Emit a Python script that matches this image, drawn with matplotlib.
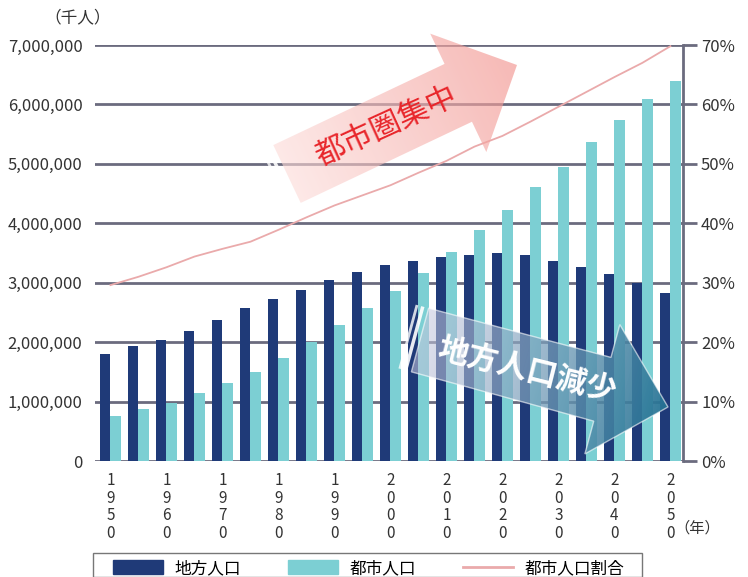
import numpy as np
import matplotlib
matplotlib.use('Agg')
import matplotlib.pyplot as plt
from matplotlib.patches import Patch, Polygon, Rectangle
from matplotlib.lines import Line2D

# フォント設定
plt.rcParams['font.family'] = ['Noto Sans CJK JP', 'DejaVu Sans']
plt.rcParams['axes.unicode_minus'] = False

# データ（千人、5年ごと）
years = list(range(1950, 2051, 5))
rural_pop = [1800000, 1940000, 2030000, 2190000, 2380000, 2570000, 2730000, 2880000,
             3040000, 3180000, 3300000, 3360000, 3440000, 3460000, 3500000, 3460000,
             3360000, 3270000, 3140000, 3000000, 2820000]
urban_pop = [760000, 870000, 980000, 1150000, 1320000, 1500000, 1740000, 2000000,
             2290000, 2570000, 2860000, 3170000, 3510000, 3880000, 4230000, 4610000,
             4950000, 5360000, 5730000, 6090000, 6390000]
urban_ratio = [29.6, 31.0, 32.6, 34.4, 35.7, 36.9, 38.9, 41.0, 43.0, 44.7, 46.4,
               48.5, 50.5, 52.9, 54.7, 57.1, 59.6, 62.1, 64.6, 67.0, 69.8]
left_ticks = [0, 1000000, 2000000, 3000000, 4000000, 5000000, 6000000, 7000000]
right_ticks = [0, 10, 20, 30, 40, 50, 60, 70]
labels = ['地方人口', '都市人口', '都市人口割合']

NAVY = '#1f3a78'
TEAL = '#7ccfd3'
PINK = '#eaaaab'
GRID = '#6b6b7e'

W, H = 748, 577
fig = plt.figure(figsize=(W / 100, H / 100), dpi=100)
ax = fig.add_axes([95 / W, 1 - 461 / H, (683 - 95) / W, (461 - 45) / H])

x = np.arange(len(years))
bw = 0.375
ax.bar(x - bw / 2, rural_pop, bw, color=NAVY, zorder=3)
ax.bar(x + bw / 2, urban_pop, bw, color=TEAL, zorder=3)
ax.set_xlim(-0.553, 20.45)
ax.set_ylim(0, 7000000)
ax.set_yticks(left_ticks)
ax.set_yticklabels([format(v, ',') for v in left_ticks], fontsize=12, color='#333333')
ax.grid(axis='y', color=GRID, lw=2, zorder=1)
ax.tick_params(axis='y', length=0, pad=9)
dec = [i for i, y in enumerate(years) if y % 10 == 0]
ax.set_xticks(dec)
ax.set_xticklabels(['\n'.join(str(years[i])) for i in dec], fontsize=11,
                   color='#333333', linespacing=1.05)
ax.tick_params(axis='x', length=0, pad=8)
for s in ['top', 'left', 'bottom', 'right']:
    ax.spines[s].set_visible(False)

ax2 = ax.twinx()
ax2.plot(x, urban_ratio, color=PINK, lw=1.3, zorder=4)
ax2.set_ylim(0, 70)
ax2.set_yticks(right_ticks)
ax2.set_yticklabels([f'{v}%' for v in right_ticks], fontsize=12, color='#333333')
ax2.tick_params(axis='y', length=10, width=2, color=GRID, pad=3)
for s in ['top', 'left', 'bottom']:
    ax2.spines[s].set_visible(False)
ax2.spines['right'].set_color(GRID)
ax2.spines['right'].set_linewidth(2)

fig.text(78 / W, 1 - 18 / H, '（千人）', fontsize=12, ha='center', va='center', color='#333333')
fig.text(697 / W, 1 - 528 / H, '（年）', fontsize=11, ha='center', va='center', color='#333333')

# 凡例（枠は別に描く）
handles = [Patch(color=NAVY), Patch(color=TEAL), Line2D([], [], color=PINK, lw=2)]
leg = fig.legend(handles, labels, loc='upper left', bbox_to_anchor=(108 / W, 1 - 555 / H),
                 ncol=3, fontsize=12, frameon=False,
                 handlelength=3.0, handleheight=0.9, handletextpad=0.7,
                 columnspacing=2.8, borderpad=0.3, borderaxespad=0)
fig.patches.append(Rectangle((93 / W, 0), (642 - 93) / W, 1 - 553 / H,
                             transform=fig.transFigure, fill=False,
                             edgecolor='#777777', lw=1.0))

# 矢印（ピクセル座標のオーバーレイ）
ov = fig.add_axes([0, 0, 1, 1], zorder=5)
ov.axis('off')
ov.patch.set_alpha(0)


def arrow_poly(tail, tip, shaft_w, head_w, head_len):
    tail = np.array(tail, float)
    tip = np.array(tip, float)
    u = (tip - tail) / np.linalg.norm(tip - tail)
    n = np.array([-u[1], u[0]])
    base = tip - u * head_len
    pts = [tail + n * shaft_w / 2, base + n * shaft_w / 2, base + n * head_w / 2, tip,
           base - n * head_w / 2, base - n * shaft_w / 2, tail - n * shaft_w / 2]
    return np.array(pts), u


def gradient_arrow(tail, tip, shaft_w, head_w, head_len, c0, c1, edge=None):
    pts, u = arrow_poly(tail, tip, shaft_w, head_w, head_len)
    x0, y0 = pts.min(axis=0) - 2
    x1, y1 = pts.max(axis=0) + 2
    gx, gy = np.meshgrid(np.arange(x0, x1), np.arange(y0, y1))
    t = ((gx - tail[0]) * u[0] + (gy - tail[1]) * u[1]) / np.linalg.norm(np.subtract(tip, tail))
    t = np.clip(t, 0, 1)[..., None]
    img = np.array(c0) * (1 - t) + np.array(c1) * t
    im = ov.imshow(img, extent=(x0, x1, y1, y0), interpolation='bilinear', zorder=5)
    poly = Polygon(pts, closed=True, facecolor='none',
                   edgecolor=edge if edge else 'none', lw=1, zorder=6)
    ov.add_patch(poly)
    im.set_clip_path(poly)
    # 端の白い帯
    for off, lw, col in [(-6, 2.5, (1, 1, 1, 0.9)), (-12, 2.0, (1, 1, 1, 0.8))]:
        a = pts[0] + u * off
        b = pts[-1] + u * off
        ov.plot([a[0], b[0]], [a[1], b[1]], color=col, lw=lw, zorder=6, solid_capstyle='butt')


gradient_arrow((287, 174), (517, 65), 64, 131, 65,
               (0.99, 0.86, 0.85, 0.62), (0.95, 0.58, 0.56, 0.65))
ov.text(386, 127, '都市圏集中', fontsize=22, color='#e8262b', ha='center', va='center',
        rotation=24.5, rotation_mode='anchor', zorder=7)

gradient_arrow((420, 340), (668, 407), 66, 134, 68,
               (0.78, 0.78, 0.87, 0.55), (0.14, 0.45, 0.58, 0.95),
               edge=(1, 1, 1, 0.6))
ov.text(527, 370, '地方人口減少', fontsize=22, color='white', fontweight='bold',
        ha='center', va='center', rotation=-14, rotation_mode='anchor', zorder=7)
ov.set_xlim(0, W)
ov.set_ylim(H, 0)

fig.savefig('out.png', dpi=100)
